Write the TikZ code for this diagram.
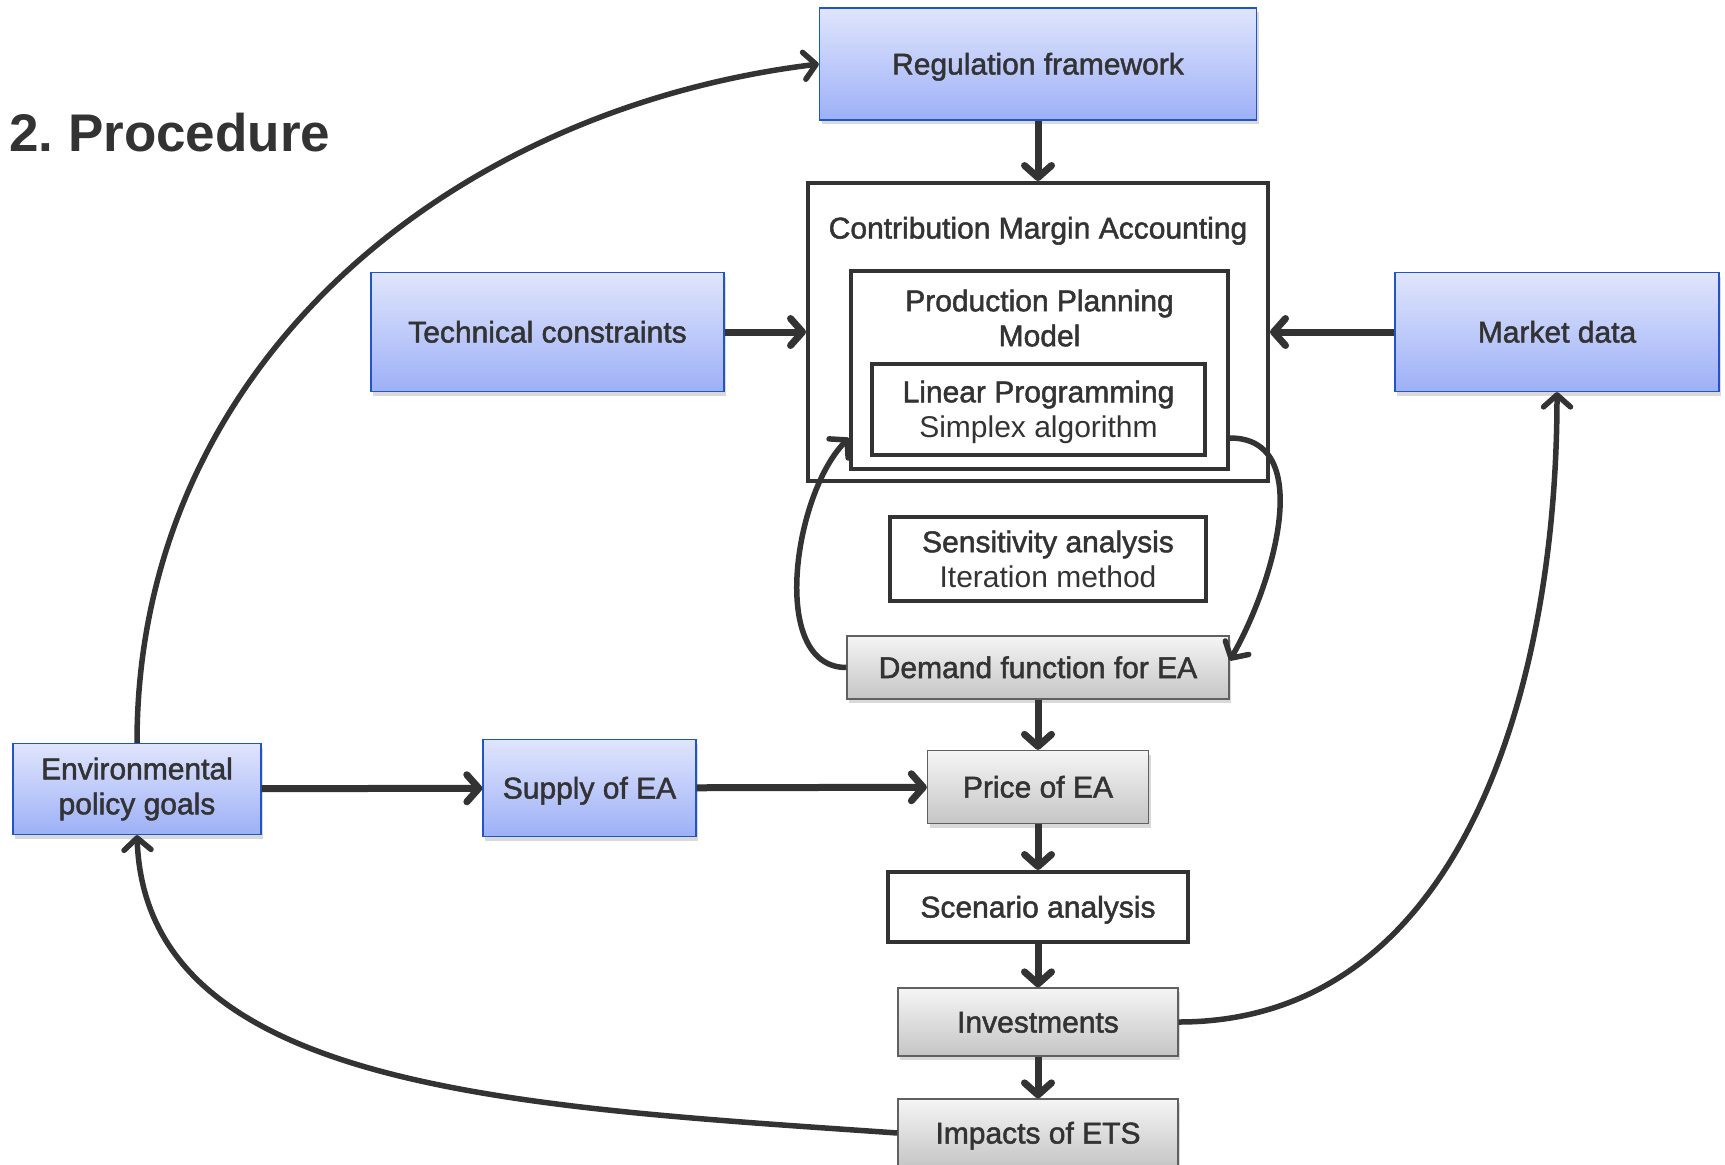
\documentclass[tikz,border=0pt]{standalone}
\usepackage{fontspec}
\setmainfont{Liberation Sans}
\newfontfamily\medfont[FakeBold=1.6]{Liberation Sans}
\usetikzlibrary{arrows.meta}
\usetikzlibrary{shadows}
\definecolor{ink}{HTML}{333333}
\definecolor{bltop}{HTML}{E0E5FC}
\definecolor{blbot}{HTML}{9DB0F7}
\definecolor{blline}{HTML}{1F55C4}
\definecolor{grtop}{HTML}{F5F5F5}
\definecolor{grbot}{HTML}{C5C5C5}
\definecolor{grline}{HTML}{606060}
\tikzset{t/.style={font=\medfont\fontsize{30}{35}\selectfont, text=ink, align=center}}
\tikzset{one/.style={text height=27pt, text depth=6pt}}
\tikzset{shd/.style={drop shadow={opacity=0.3, shadow xshift=2pt, shadow yshift=-4pt}}}
\tikzset{bbox/.style={t, shd, draw=blline, line width=1.3pt, top color=bltop, bottom color=blbot, inner sep=0pt}}
\tikzset{gbox/.style={t, shd, draw=grline, line width=1.3pt, top color=grtop, bottom color=grbot, inner sep=0pt}}
\tikzset{wbox/.style={t, draw=ink, line width=4pt, fill=white, inner sep=0pt}}
\tikzset{arr/.style={->, draw=ink, line width=7pt}}
\tikzset{crv/.style={->, draw=ink, line width=5.5pt}}
\newcommand{\lite}[1]{{\normalfont\fontsize{30}{35}\selectfont #1}}

\begin{document}
\begin{tikzpicture}[x=1pt,y=1pt,>={Straight Barb[length=12pt,width=27pt,round]}]
        \useasboundingbox (0,0) rectangle (1725,-1165);
        \node[font=\fontsize{53}{60}\selectfont\bfseries, text=ink, anchor=base west, inner sep=0pt] (title) at (9,-151) {2.\ Procedure};
        \node[bbox, one, minimum width=437, minimum height=112] (reg) at (1038,-64) {Regulation framework};
        % contribution margin block
        \node[wbox, minimum width=460, minimum height=298] (cma) at (1038,-332) {}
          edge [arr,<-] (reg);
        \node[t, one] (cmat) at (1038,-228) {Contribution Margin Accounting};
        \node[wbox, minimum width=377, minimum height=198] (ppm) at (1039.5,-370) {};
        \node[t] (ppmt) at (1039.5,-318) {Production Planning\\Model};
        \node[wbox, minimum width=333, minimum height=91] (lp) at (1038.5,-409.5) {};
        \node[t] (lpt) at (1038.5,-412) {Linear Programming\\\lite{Simplex algorithm}};
        \node[bbox, one, minimum width=353, minimum height=119] (tech) at (547.5,-332) {Technical constraints}
          edge [arr] (cma);
        \node[bbox, one, minimum width=324, minimum height=119] (mkt) at (1557,-332) {Market data}
          edge [arr] (cma);
        \node[wbox, line width=3.5pt, minimum width=316, minimum height=84] (sens) at (1048,-559) {Sensitivity analysis\\\lite{Iteration method}};
        % main chain
        \node[gbox, one, minimum width=382, minimum height=63] (dem) at (1038,-667.5) {Demand function for EA};
        \node[gbox, one, minimum width=221, minimum height=73] (price) at (1038,-787) {Price of EA}
          edge [arr,<-] (dem);
        \node[wbox, one, minimum width=300, minimum height=70] (scen) at (1038,-907) {Scenario analysis}
          edge [arr,<-] (price);
        \node[gbox, one, minimum width=280, minimum height=68] (inv) at (1038,-1022) {Investments}
          edge [arr,<-] (scen);
        \node[gbox, one, minimum width=280, minimum height=68] (imp) at (1038,-1133) {Impacts of ETS}
          edge [arr,<-] (inv);
        \node[bbox, minimum width=248, minimum height=91] (env) at (137,-789) {Environmental\\policy goals};
        \node[bbox, one, minimum width=213, minimum height=97] (sup) at (589.5,-788) {Supply of EA}
          edge [arr,<-] (env)
          edge [arr] (price);
        % feedback curves
        \draw[crv] (env.north) to[out=90, in=187] (reg.west);
        \draw[crv] (imp.west) to[out=176, in=-88, out looseness=1.2, in looseness=0.8] (env.south);
        \draw[crv] (inv.east) to[out=0, in=-90] (mkt.south);
        \draw[crv] (dem.west) to[out=180, in=225, looseness=0.87] ([yshift=-68pt]ppm.west);
        \draw[crv] ([yshift=-68pt]ppm.east) to[out=0, in=60] ([yshift=7pt]dem.east);
      \end{tikzpicture}
\end{document}
